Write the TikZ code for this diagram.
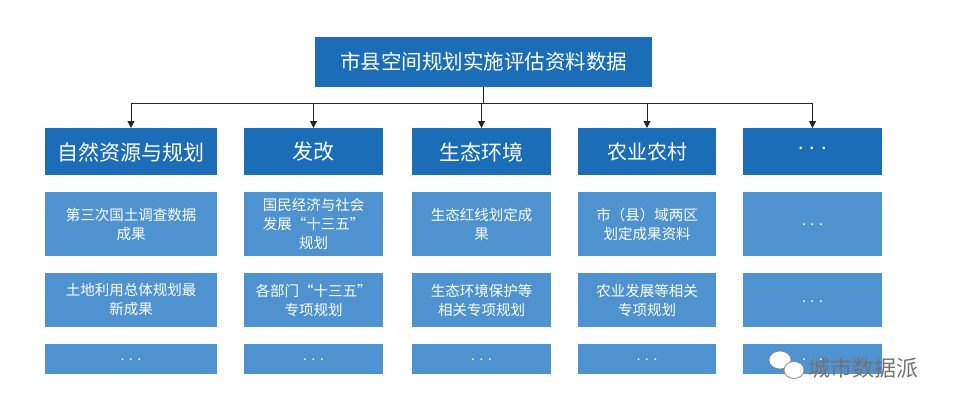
\documentclass[tikz,border=0pt]{standalone}
\usepackage{fontspec}
\newfontfamily\cjk{Noto Sans CJK SC}
\usetikzlibrary{arrows.meta}
\definecolor{dk}{HTML}{1B6DB8}
\definecolor{lt}{HTML}{4E93D0}
\tikzset{x=1pt,y=-1pt,
 dkbox/.style={text=white,font=\cjk\fontsize{21}{24}\selectfont,align=center},
 ltbox/.style={text=white,font=\cjk\fontsize{14.5}{19}\selectfont,align=center},
 conn/.style={-{Triangle[length=7pt,width=7pt]},line width=1pt,draw=black!85}}
\begin{document}
\begin{tikzpicture}
\useasboundingbox[fill=white] (0,0) rectangle (960,413);
\fill[dk] (315,37) rectangle (652,87);
\node[dkbox,font=\cjk\fontsize{20.5}{24}\selectfont] (top) at (483.5,62) {市县空间规划实施评估资料数据};
\coordinate (j) at (483.5,103);
\foreach \n/\a/\b in {1/45/217,2/244/383,3/412/551,4/578/716,5/743/882}{
  \fill[dk] (\a,128) rectangle (\b,175);
  \fill[lt] (\a,192) rectangle (\b,256);
  \fill[lt] (\a,273) rectangle (\b,327);
  \fill[lt] (\a,344) rectangle (\b,374);
  \coordinate (h\n) at ({(\a+\b)/2},128);
}
\node[dkbox] (n1) at (131,152) {自然资源与规划};
\node[dkbox] (n2) at (313.5,152) {发改};
\node[dkbox] (n3) at (481.5,152) {生态环境};
\node[dkbox,font=\cjk\fontsize{20}{24}\selectfont] (n4) at (647,152) {农业农村};
\node[dkbox,font=\cjk\fontsize{20}{24}\selectfont] (n5) at (812.5,148) {. . .};
\node[ltbox] (a1) at (131,224) {第三次国土调查数据\\成果};
\node[ltbox] (a2) at (313.5,224) {国民经济与社会\\发展“十三五”\\规划};
\node[ltbox] (a3) at (481.5,224) {生态红线划定成\\果};
\node[ltbox] (a4) at (647,224) {市（县）域两区\\划定成果资料};
\node[ltbox] (a5) at (812.5,225) {. . .};
\node[ltbox] (b1) at (131,300) {土地利用总体规划最\\新成果};
\node[ltbox] (b2) at (313.5,300) {各部门“十三五”\\专项规划};
\node[ltbox] (b3) at (481.5,300) {生态环境保护等\\相关专项规划};
\node[ltbox] (b4) at (647,300) {农业发展等相关\\专项规划};
\node[ltbox] (b5) at (812.5,302) {. . .};
\foreach \n/\x in {1/131,2/313.5,3/481.5,4/647,5/812.5}
  \node[ltbox] (d\n) at (\x,360) {. . .};
\draw[line width=1pt,draw=black!85] (top.south |- 0,87) -- (j);
\draw[line width=1pt,draw=black!85] (h1 |- j) -- (h5 |- j);
\foreach \n in {1,...,5} \draw[conn] (h\n |- j) -- (h\n);
% watermark
\draw[black!45,fill=white,line width=0.8pt] (780,360) ellipse (11 and 9);
\draw[black!45,fill=white,line width=0.8pt] (794,370) ellipse (10 and 8.5);
\node[text=black!55,font=\cjk\fontsize{22}{24}\selectfont,anchor=west] (wm) at (805,368) {城市数据派};
\end{tikzpicture}
\end{document}
